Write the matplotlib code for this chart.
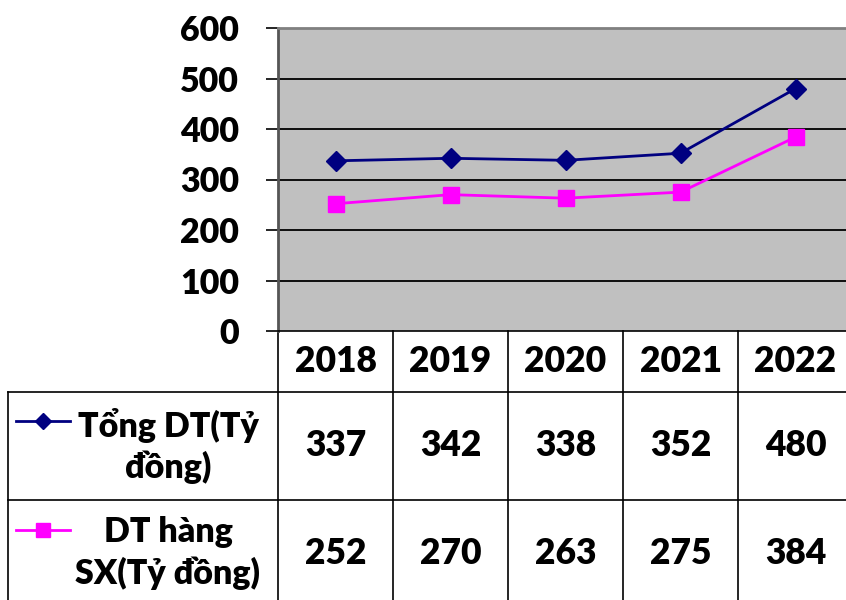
import matplotlib
matplotlib.use("Agg")
import matplotlib.pyplot as plt
from matplotlib.transforms import blended_transform_factory

plt.rcParams['font.family'] = ['Lato', 'DejaVu Sans']
plt.rcParams['font.weight'] = 'heavy'
FW = 'heavy'

years = ["2018", "2019", "2020", "2021", "2022"]
tong_dt = [337, 342, 338, 352, 480]
dt_sx = [252, 270, 263, 275, 384]
series_names = ["Tổng DT(Tỷ\nđồng)", "DT hàng\nSX(Tỷ đồng)"]
yticks = [0, 100, 200, 300, 400, 500, 600]

W, H = 846, 600
fig = plt.figure(figsize=(W / 100, H / 100), dpi=100)
fig.patch.set_facecolor("white")

left, right, top, bottom = 278, 853, 28, 331
ax = fig.add_axes([left / W, 1 - bottom / H, (right - left) / W, (bottom - top) / H])
ax.set_facecolor("#C0C0C0")

x = list(range(len(years)))
ax.plot(x, tong_dt, color="#000080", lw=2.0, marker="D", ms=10.5, zorder=3, clip_on=False)
ax.plot(x, dt_sx, color="#FF00FF", lw=2.0, marker="s", ms=11, zorder=3, clip_on=False)

ax.set_xlim(-0.5, len(years) - 0.5)
ax.set_ylim(0, 600)
ax.set_yticks(yticks)
ax.set_yticklabels([str(t) for t in yticks], fontsize=24.5, fontweight=FW)
ax.tick_params(axis="y", length=9, width=1.2, pad=19, direction="out")
ax.set_xticks([])
for v in yticks[1:-1]:
    ax.axhline(v, color="black", lw=1.3, zorder=1)
ax.spines["top"].set_color("#808080")
ax.spines["top"].set_linewidth(2)
ax.spines["left"].set_color("#555555")
ax.spines["left"].set_linewidth(2)
ax.spines["right"].set_visible(False)
ax.spines["bottom"].set_color("black")
ax.spines["bottom"].set_linewidth(1.2)

# data table below the plot (x in data units, y in axes fraction)
tr = blended_transform_factory(ax.transData, ax.transAxes)
ph = bottom - top
def yf(py):
    return (bottom - py) / ph

x_left = -0.5 - (left - 8) / 115.0
x_right = len(years) - 0.5 + 0.3
y_hdr = yf(392)
y_r1 = yf(500)
y_end = yf(610)

lk = dict(color="black", lw=1.2, transform=tr, clip_on=False)
for i in range(len(years) + 1):
    ax.plot([i - 0.5, i - 0.5], [0, y_end], **lk)
ax.plot([x_left, x_left], [y_hdr, y_end], **lk)
ax.plot([x_left, x_right], [y_hdr, y_hdr], **lk)
ax.plot([x_left, x_right], [y_r1, y_r1], **lk)

for i, yr in enumerate(years):
    ax.text(i, yf(361), yr, transform=tr, ha="center", va="center",
            fontsize=25.5, fontweight=FW, clip_on=False)
for row_vals, yc in ((tong_dt, yf(446)), (dt_sx, yf(553))):
    for i, v in enumerate(row_vals):
        ax.text(i, yc, str(v), transform=tr, ha="center", va="center",
                fontsize=25.5, fontweight=FW, clip_on=False)

def px2x(px):
    return -0.5 - (left - px) / 115.0

key_specs = [("#000080", "D", 8, 421, 446), ("#FF00FF", "s", 10, 530, 553)]
for (col, mk, ms, ky, ty), name in zip(key_specs, series_names):
    ax.plot([px2x(16), px2x(70)], [yf(ky), yf(ky)], color=col, lw=2.0,
            transform=tr, clip_on=False)
    ax.plot([px2x(43)], [yf(ky)], color=col, marker=mk, ms=ms,
            transform=tr, clip_on=False)
    ax.text(px2x(168), yf(ty), name, transform=tr, ha="center", va="center",
            fontsize=24.5, fontweight=FW, linespacing=1.3, clip_on=False)

fig.savefig("out.png", dpi=100)
